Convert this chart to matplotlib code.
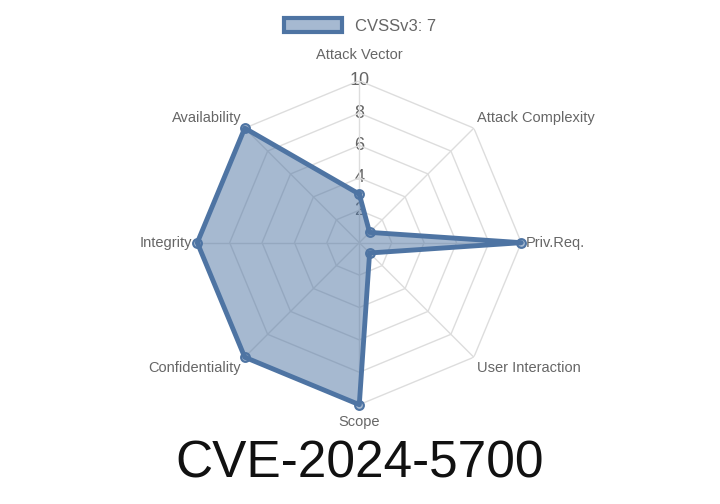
import matplotlib
matplotlib.use("Agg")
import matplotlib.pyplot as plt
import numpy as np
from matplotlib.patches import Patch

# ---------------------------------------------------------------------------
# Data
# ---------------------------------------------------------------------------
categories = ["Attack Vector", "Attack Complexity", "Priv.Req.", "User Interaction",
              "Scope", "Confidentiality", "Integrity", "Availability"]
scores = [3, 0.9, 10, 0.9, 10, 10, 10, 10]
ticks = [2, 4, 6, 8, 10]
series_label = "CVSSv3: 7"
title = "CVE-2024-5700"

plt.rcParams["font.family"] = ["Liberation Sans", "DejaVu Sans"]

LINE = "#4e74a3"
FILL = (0.306, 0.455, 0.64, 0.5)
FILL_SOLID = "#a6b9d1"
GRID = "#dddddd"
TXT = "#666666"

fig = plt.figure(figsize=(7.2, 5.04), dpi=100)
ax = fig.add_axes([0.274, 0.197, 0.45, 0.643], projection="polar")
ax.set_theta_offset(np.pi / 2)
ax.set_theta_direction(-1)

n = len(categories)
angles = np.linspace(0, 2 * np.pi, n, endpoint=False)
closed = np.append(angles, angles[0])

# octagon grid
for t in ticks:
    ax.plot(closed, [t] * (n + 1), color=GRID, lw=1, zorder=1)
for a in angles:
    ax.plot([a, a], [0, 10], color=GRID, lw=1, zorder=1)

vals = np.append(scores, scores[0])
ax.fill(closed, vals, color=FILL, zorder=2)
ax.plot(closed, vals, color=LINE, lw=3.5, zorder=3, clip_on=False)
ax.scatter(angles, scores, s=40, facecolor=FILL, edgecolor=LINE,
           linewidth=1.5, zorder=4, clip_on=False)

ax.set_ylim(0, 10)
ax.set_xticks([])
ax.set_yticks([])
ax.grid(False)
ax.spines["polar"].set_visible(False)

for t in ticks:
    ax.text(0, t, str(t), ha="center", va="center", fontsize=13, color=TXT,
            zorder=0)

for a, c in zip(angles, categories):
    s = np.sin(a)
    co = np.cos(a)
    ha = "center" if abs(s) < 0.1 else ("left" if s > 0 else "right")
    if abs(s) < 0.1:
        r = 11.6 if co > 0 else 11.1
        va = "center"
    else:
        r = 10.3
        va = "center" if abs(co) < 0.1 else ("bottom" if co > 0 else "top")
    ax.text(a, r, c, ha=ha, va=va, fontsize=10.5, color=TXT)

fig.legend(handles=[Patch(facecolor=FILL_SOLID, edgecolor=LINE, linewidth=3)],
           labels=[series_label], loc="upper center", bbox_to_anchor=(0.5, 0.995),
           frameon=False, fontsize=12, labelcolor=TXT, handlelength=3.5,
           handleheight=1.0)

fig.text(0.5, 0.03, title, ha="center", va="bottom", fontsize=37, color="#111111")

fig.savefig("out.png", dpi=100)
